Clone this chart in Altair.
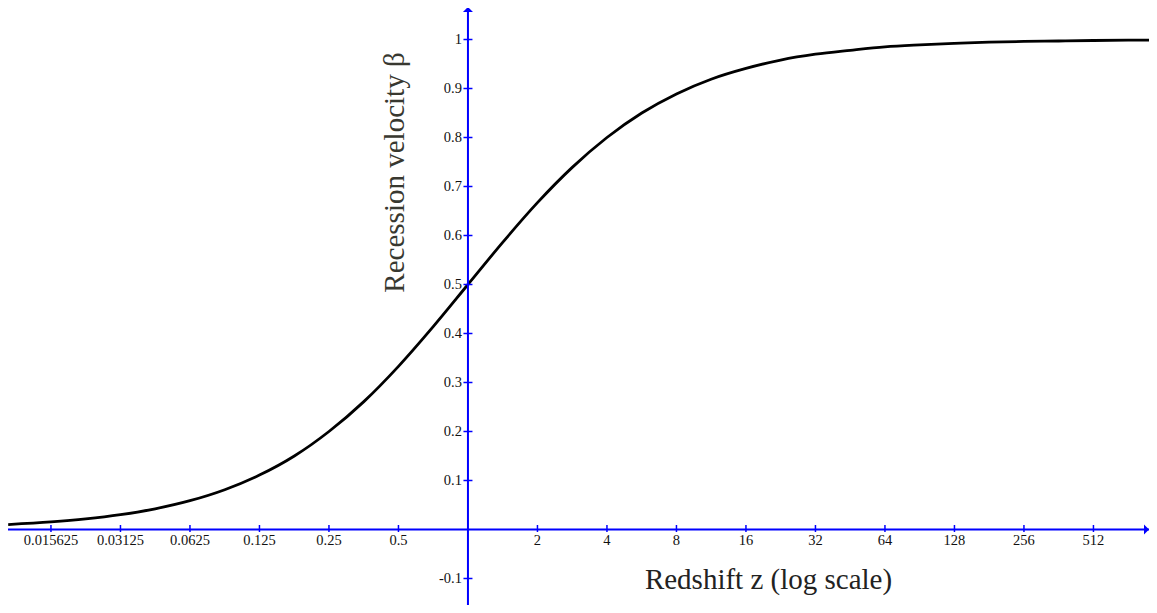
import altair as alt
import pandas as pd

# ---- data ----
z_vals = [0.0102, 0.015625, 0.0221, 0.03125, 0.0442, 0.0625, 0.0884, 0.125, 0.177, 0.25,
          0.354, 0.5, 0.707, 1, 1.414, 2, 2.83, 4, 5.66, 8, 11.3, 16, 22.6, 32, 45.3,
          64, 90.5, 128, 181, 256, 362, 512, 724, 965]
beta_vals = [0.0101, 0.0154, 0.0216, 0.0303, 0.0423, 0.0588, 0.0812, 0.111, 0.150, 0.200,
             0.261, 0.333, 0.414, 0.500, 0.586, 0.667, 0.739, 0.800, 0.850, 0.889, 0.919,
             0.941, 0.958, 0.970, 0.978, 0.985, 0.989, 0.992, 0.9945, 0.996, 0.997, 0.998,
             0.9986, 0.999]

x_tick_vals = [0.015625, 0.03125, 0.0625, 0.125, 0.25, 0.5, 2, 4, 8, 16, 32, 64, 128, 256, 512]
x_tick_labels = ["0.015625", "0.03125", "0.0625", "0.125", "0.25", "0.5", "2", "4", "8",
                 "16", "32", "64", "128", "256", "512"]
y_tick_vals = [-0.1, 0.1, 0.2, 0.3, 0.4, 0.5, 0.6, 0.7, 0.8, 0.9, 1.0]
y_tick_labels = ["-0.1", "0.1", "0.2", "0.3", "0.4", "0.5", "0.6", "0.7", "0.8", "0.9", "1"]

x_domain = [0.01018, 891]
y_domain = [-0.1541, 1.0643]
x_cross = 1   # y axis crosses x axis at z = 1
y_cross = 0   # x axis at beta = 0

x_title = "Redshift z (log scale)"
y_title = "Recession velocity β"

BLUE = "#0000ff"
FONT = "Liberation Serif"

xs = alt.Scale(type="log", base=2, domain=x_domain, nice=False)
ys = alt.Scale(domain=y_domain, nice=False, zero=False)

curve_df = pd.DataFrame({"z": z_vals, "beta": beta_vals})
xt_df = pd.DataFrame({"z": x_tick_vals, "label": x_tick_labels, "beta": [y_cross] * len(x_tick_vals)})
yt_df = pd.DataFrame({"z": [x_cross] * len(y_tick_vals), "label": y_tick_labels, "beta": y_tick_vals})
xaxis_df = pd.DataFrame({"z": [x_domain[0]], "z2": [x_domain[1]], "beta": [y_cross]})
yaxis_df = pd.DataFrame({"z": [x_cross], "beta": [y_domain[0]], "beta2": [y_domain[1]]})
xarrow_df = pd.DataFrame({"z": [x_domain[1]], "beta": [y_cross]})
yarrow_df = pd.DataFrame({"z": [x_cross], "beta": [y_domain[1]]})

x_axis = alt.Axis(domain=False, ticks=False, labels=False, grid=False, title=x_title,
                  titleFont=FONT, titleFontSize=29, titleFontWeight="normal", titleColor="#222222",
                  titleX=760, titleY=-17, titleAlign="center", titleBaseline="alphabetic")
y_axis = alt.Axis(domain=False, ticks=False, labels=False, grid=False, title=y_title,
                  titleFont=FONT, titleFontSize=29, titleFontWeight="normal", titleColor="#383830",
                  titleX=395, titleY=164, titleAngle=270, titleAlign="center",
                  titleBaseline="alphabetic")


def X(field="z:Q"):
    return alt.X(field, scale=xs, axis=x_axis)


def Y(field="beta:Q"):
    return alt.Y(field, scale=ys, axis=y_axis)


x_line = alt.Chart(xaxis_df).mark_rule(color=BLUE, strokeWidth=2).encode(
    x=X(), x2="z2:Q", y=Y())
y_line = alt.Chart(yaxis_df).mark_rule(color=BLUE, strokeWidth=2).encode(
    x=X(), y=Y(), y2="beta2:Q")

x_arrow = alt.Chart(xarrow_df).mark_point(
    shape="M -1 -1 L 0 0 L -1 1 Z", filled=True, size=100, color=BLUE, opacity=1
).encode(x=X(), y=Y())
y_arrow = alt.Chart(yarrow_df).mark_point(
    shape="M -1 0.8 L 1 0.8 L 0 -0.2 Z", filled=True, size=100, color=BLUE, opacity=1
).encode(x=X(), y=Y())

x_ticks = alt.Chart(xt_df).mark_tick(orient="vertical", size=7, thickness=1.5, color=BLUE,
                                     yOffset=-1, opacity=1).encode(x=X(), y=Y())
y_ticks = alt.Chart(yt_df).mark_tick(orient="horizontal", size=9, thickness=1.5, color=BLUE,
                                     opacity=1).encode(x=X(), y=Y())

x_labels = alt.Chart(xt_df).mark_text(font=FONT, fontSize=14.5, color="#111111", align="center",
                                      baseline="alphabetic", dy=15.5).encode(
    x=X(), y=Y(), text="label:N")
y_labels = alt.Chart(yt_df).mark_text(font=FONT, fontSize=14.5, color="#111111", align="right",
                                      baseline="alphabetic", dx=-6, dy=4.5).encode(
    x=X(), y=Y(), text="label:N")

curve = alt.Chart(curve_df).mark_line(color="black", strokeWidth=2.8, interpolate="monotone",
                                      clip=True).encode(x=X(), y=Y())

chart = alt.layer(
    curve, x_line, y_line, x_ticks, y_ticks, x_labels, y_labels, x_arrow, y_arrow
).properties(
    width=1141, height=597, padding=0, autosize=alt.AutoSizeParams(type="none"),
    background="white"
).configure_view(stroke=None)

chart.save("out.html", embed_options={"renderer": "svg", "actions": False})
